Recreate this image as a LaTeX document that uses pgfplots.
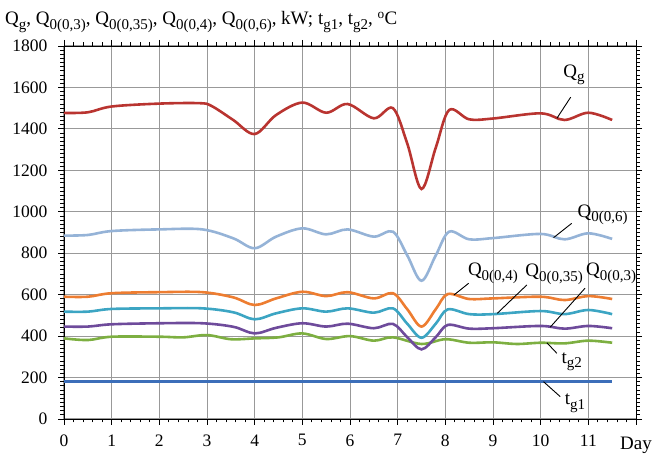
\documentclass[border=0pt]{standalone}
\usepackage{fontspec}
\setmainfont{Liberation Serif}
\usepackage{pgfplots}
\pgfplotsset{compat=1.18}
\usepackage{pgfplotstable}
\newcommand{\sub}[1]{\raisebox{-0.24em}{\fontsize{15}{15}\selectfont #1}}
\definecolor{cQg}{RGB}{185,52,48}
\definecolor{cQ6}{RGB}{149,179,215}
\definecolor{cQ4}{RGB}{237,125,49}
\definecolor{cQ35}{RGB}{60,165,195}
\definecolor{cQ3}{RGB}{110,75,155}
\definecolor{ctg2}{RGB}{125,175,65}
\definecolor{ctg1}{RGB}{60,110,185}
\pgfplotstableread{
x y
0 1477
0.5 1480
1 1508
2 1522
2.85 1524
3.1 1510
3.55 1443
4 1375
4.45 1467
5 1527
5.5 1478
5.95 1520
6.5 1451
6.9 1500
7.2 1330
7.5 1110
7.8 1310
8.08 1491
8.5 1446
9 1450
10 1475
10.5 1443
11 1478
11.5 1443
}\Qg
\pgfplotstableread{
x y
0 885
0.5 888
1 907
2 915
2.9 915
3.55 872
4 824
4.45 880
5 920
5.5 891
5.95 915
6.5 880
6.9 904
7.2 790
7.5 667
7.8 790
8.08 904
8.5 867
9 873
10 893
10.5 867
11 896
11.5 869
}\Qsix
\pgfplotstableread{
x y
0 590
0.5 590
1 607
2 612
2.9 612
3.55 587
4 550
4.45 582
5 614
5.5 593
5.95 612
6.5 582
6.9 607
7.2 530
7.5 446
7.8 530
8.05 603
8.5 579
9 582
10 590
10.5 574
11 593
11.5 579
}\Qfour
\pgfplotstableread{
x y
0 518
0.5 518
1 531
2 534
2.9 534
3.55 515
4 481
4.45 510
5 534
5.5 518
5.95 534
6.5 513
6.9 534
7.2 460
7.5 392
7.8 460
8.05 529
8.5 506
9 506
10 521
10.5 506
11 526
11.5 506
}\Qthreefive
\pgfplotstableread{
x y
0 446
0.5 446
1 457
2 462
2.9 462
3.55 445
4 413
4.45 440
5 462
5.5 446
5.95 460
6.5 438
6.9 459
7.2 395
7.5 336
7.8 395
8.05 454
8.5 436
9 438
10 449
10.5 436
11 449
11.5 438
}\Qthree
\pgfplotstableread{
x y
0 389
0.5 381
1 397
2 397
2.5 394
3 405
3.5 385
4 389
4.5 394
5 413
5.5 386
6 400
6.5 378
6.9 394
7.5 362
8 385
8.5 368
9 370
9.5 362
10 368
10.5 365
11 378
11.5 368
}\tgtwo
\pgfplotstableread{
x y
0 180
11.5 180
}\tgone
\begin{document}
\fontsize{19}{22}\selectfont
\begin{tikzpicture}
\begin{axis}[
  scale only axis,
  width=572pt, height=373pt,
  xmin=0, xmax=12, ymin=0, ymax=1800,
  xtick={0,...,12}, xticklabels={0,1,2,3,4,5,6,7,8,9,10,11,},
  ytick={0,200,...,1800},
  minor x tick num=4, minor y tick num=9,
  tick align=outside,
  major tick length=6pt, minor tick length=3.5pt,
  tick style={black, line width=0.8pt},
  xmajorgrids, ymajorgrids,
  grid style={gray!80, line width=1pt},
  axis line style={black, line width=0.9pt},
  /pgf/number format/assume math mode=true,
  /pgf/number format/1000 sep={},
  ticklabel style={font=\fontsize{17.5}{20}\selectfont},
  xticklabel style={yshift=-3pt},
  yticklabel style={xshift=-4pt},
  clip=false,
  every axis plot/.style={line width=2.6pt, smooth, tension=0.55, no marks},
]
\addplot[ctg1] table[x=x,y=y]{\tgone};
\addplot[ctg2] table[x=x,y=y]{\tgtwo};
\addplot[cQ3] table[x=x,y=y]{\Qthree};
\addplot[cQ35] table[x=x,y=y]{\Qthreefive};
\addplot[cQ4] table[x=x,y=y]{\Qfour};
\addplot[cQ6] table[x=x,y=y]{\Qsix};
\addplot[cQg] table[x=x,y=y]{\Qg};
% leader lines
\draw[black, line width=0.9pt] (axis cs:10.34,1451) -- (axis cs:10.63,1553);
\node at (axis cs:10.7,1660) {Q\sub{g}};
\draw[black, line width=0.9pt] (axis cs:10.27,875) -- (axis cs:10.65,944);
\node at (axis cs:11.3,985) {Q\sub{0(0,6)}};
\draw[black, line width=0.9pt] (axis cs:8.18,598) -- (axis cs:8.49,655);
\node at (axis cs:9.0,703) {Q\sub{0(0,4)}};
\draw[black, line width=0.9pt] (axis cs:9.09,510) -- (axis cs:9.71,647);
\node at (axis cs:10.28,698) {Q\sub{0(0,35)}};
\draw[black, line width=0.9pt] (axis cs:10.2,443) -- (axis cs:10.93,631);
\node at (axis cs:11.48,703) {Q\sub{0(0,3)}};
\draw[black, line width=0.9pt] (axis cs:10.13,368) -- (axis cs:10.34,317);
\node at (axis cs:10.65,277) {t\sub{g2}};
\draw[black, line width=0.9pt] (axis cs:10.06,180) -- (axis cs:10.41,108);
\node at (axis cs:10.72,76) {t\sub{g1}};
\end{axis}
\node[anchor=base west, inner sep=0pt] at (-59pt,394pt) {Q\sub{g}, Q\sub{0(0,3)}, Q\sub{0(0,35)}, Q\sub{0(0,4)}, Q\sub{0(0,6)}, kW; t\sub{g1}, t\sub{g2}, \textsuperscript{o}C};
\node[anchor=base west, inner sep=0pt] at (556pt,-31pt) {Day};
\pgfresetboundingbox
\useasboundingbox (-64pt,-38pt) rectangle (592pt,419pt);
\end{tikzpicture}
\end{document}
